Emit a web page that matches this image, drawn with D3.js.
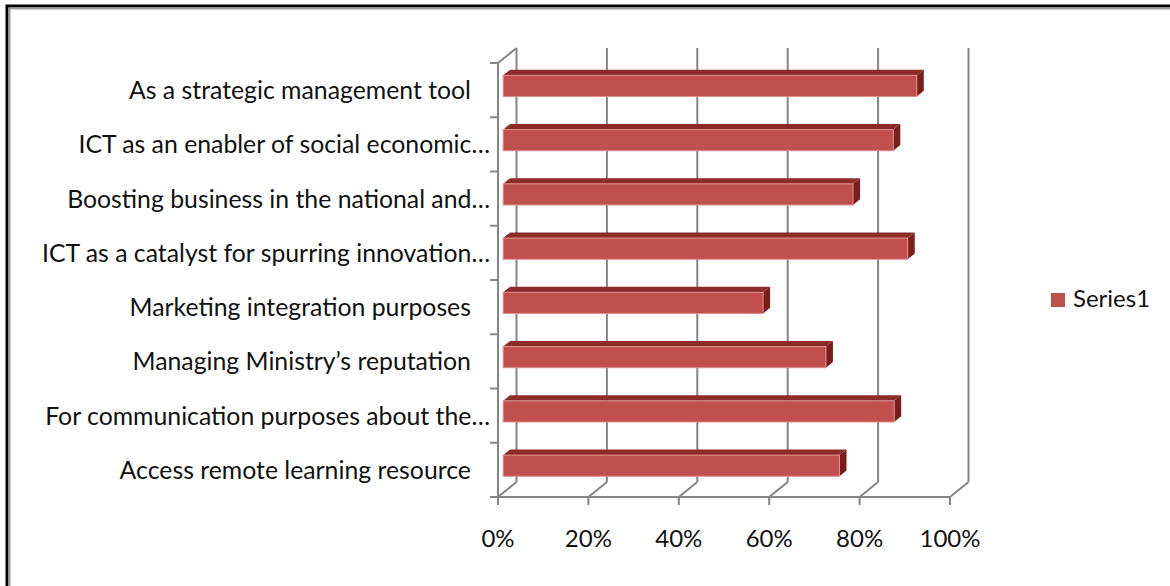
<!DOCTYPE html>
<html>
<head>
<meta charset="utf-8">
<script src="https://cdn.jsdelivr.net/npm/d3@7"></script>
<style>
  html, body { margin: 0; padding: 0; background: #fff; }
  svg { display: block; }
  text { font-family: Lato, "Open Sans", sans-serif; fill: #111; }
</style>
</head>
<body>
<script>
// Survey responses: purposes of ICT use (share of respondents)
const categories = [
  "As a strategic management tool   ",
  "ICT as an enabler of social economic…",
  "Boosting business in the national and…",
  "ICT as a catalyst for spurring innovation…",
  "Marketing integration purposes   ",
  "Managing Ministry’s reputation   ",
  "For communication purposes about the…",
  "Access remote learning resource   "
];
const series1 = [0.915, 0.863, 0.774, 0.895, 0.575, 0.714, 0.865, 0.744];
const seriesName = "Series1";
const xTicks = [0, 0.2, 0.4, 0.6, 0.8, 1.0];

const W = 1170, H = 586;
const svg = d3.select("body").append("svg")
  .attr("width", W).attr("height", H);

svg.append("rect").attr("width", W).attr("height", H).attr("fill", "#fff");

// frame
svg.append("path").attr("d", `M7,${H} V6 H${W}`)
  .attr("fill", "none").attr("stroke", "#000").attr("stroke-width", 3);
svg.append("path").attr("d", `M9.5,${H} V8.5 H${W}`)
  .attr("fill", "none").attr("stroke", "#9a9a9a").attr("stroke-width", 2);

// front plane scales and 3D depth vector
const x = d3.scaleLinear().domain([0, 1]).range([498, 950]);
const y = d3.scaleBand().domain(categories).range([63, 497]).paddingInner(0.61).paddingOuter(0.305);
const step = y.step();
const D = { x: 18.5, y: -15 };
const t0 = 0.28, t1 = 0.66;   // bar front / back depth fractions

const grid = "#858585";
const g = svg.append("g");

// back wall gridlines
g.selectAll("line.gridback").data(xTicks).join("line")
  .attr("x1", d => x(d) + D.x).attr("x2", d => x(d) + D.x)
  .attr("y1", 497 + D.y).attr("y2", 63 + D.y)
  .attr("stroke", grid).attr("stroke-width", 2);

// floor diagonals
g.selectAll("line.floor").data(xTicks).join("line")
  .attr("x1", d => x(d)).attr("x2", d => x(d) + D.x)
  .attr("y1", 497).attr("y2", 497 + D.y)
  .attr("stroke", grid).attr("stroke-width", 2);

// side wall top diagonal
g.append("line").attr("x1", x(0)).attr("y1", 63)
  .attr("x2", x(0) + D.x).attr("y2", 63 + D.y)
  .attr("stroke", grid).attr("stroke-width", 2);

// category axis (front left edge) and ticks
g.append("line").attr("x1", x(0)).attr("x2", x(0)).attr("y1", 63).attr("y2", 497)
  .attr("stroke", grid).attr("stroke-width", 2);
const catEdges = d3.range(categories.length + 1).map(i => 63 + i * step);
g.selectAll("line.ytick").data(catEdges).join("line")
  .attr("x1", x(0) - 8).attr("x2", x(0))
  .attr("y1", d => d).attr("y2", d => d)
  .attr("stroke", grid).attr("stroke-width", 2);

// value axis (front floor edge) and ticks
g.append("line").attr("x1", x(0)).attr("x2", x(1)).attr("y1", 497).attr("y2", 497)
  .attr("stroke", grid).attr("stroke-width", 2);
g.selectAll("line.xtick").data(xTicks).join("line")
  .attr("x1", d => x(d)).attr("x2", d => x(d))
  .attr("y1", 497).attr("y2", 505)
  .attr("stroke", grid).attr("stroke-width", 2);

// tick labels
g.selectAll("text.xlab").data(xTicks).join("text")
  .attr("x", d => x(d)).attr("y", 547)
  .attr("text-anchor", "middle")
  .attr("font-size", 24)
  .text(d3.format(".0%"));

g.selectAll("text.ylab").data(categories).join("text")
  .attr("x", 490).attr("y", d => y(d) + y.bandwidth() / 2)
  .attr("dy", "0.36em")
  .attr("text-anchor", "end")
  .attr("font-size", 24.8)
  .attr("xml:space", "preserve")
  .style("white-space", "pre")
  .text(d => d);

// 3D bars
const cFront = "#c0504d", cTop = "#8e2b29", cSide = "#7a1d1b", cEdge = "#dc8f8c";
const bars = g.selectAll("g.bar").data(categories.map((c, i) => ({ c, v: series1[i] })))
  .join("g");

bars.each(function (d) {
  const sel = d3.select(this);
  const x0 = x(0) + t0 * D.x, x1 = x(d.v) + t0 * D.x;
  const yt = y(d.c) + t0 * D.y, yb = y(d.c) + y.bandwidth() + t0 * D.y;
  const dx = (t1 - t0) * D.x, dy = (t1 - t0) * D.y;
  // top face
  sel.append("path")
    .attr("d", `M${x0},${yt} L${x0 + dx},${yt + dy} L${x1 + dx},${yt + dy} L${x1},${yt} Z`)
    .attr("fill", cTop);
  // right face
  sel.append("path")
    .attr("d", `M${x1},${yt} L${x1 + dx},${yt + dy} L${x1 + dx},${yb + dy} L${x1},${yb} Z`)
    .attr("fill", cSide);
  // front face
  sel.append("rect")
    .attr("x", x0).attr("y", yt)
    .attr("width", x1 - x0).attr("height", yb - yt)
    .attr("fill", cFront)
    .attr("stroke", cEdge).attr("stroke-width", 1);
});

// legend
const lg = svg.append("g").attr("transform", "translate(1051,293)");
lg.append("rect").attr("width", 14).attr("height", 14).attr("fill", cFront);
lg.append("text").attr("x", 22).attr("y", 14).attr("font-size", 24).text(seriesName);
</script>
</body>
</html>
